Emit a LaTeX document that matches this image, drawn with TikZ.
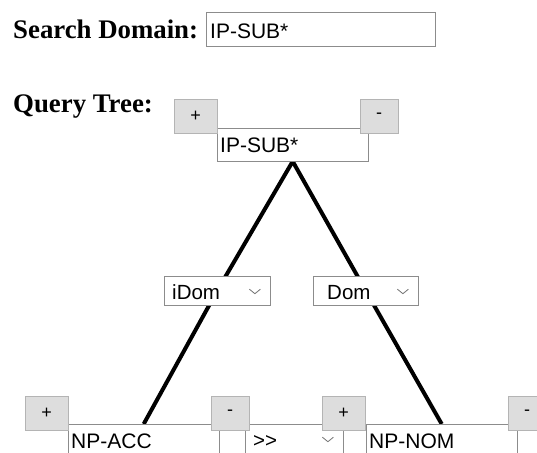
\documentclass[tikz,border=0pt]{standalone}
\usepackage{fontspec}
\setmainfont{Liberation Serif}
\newfontfamily\uifont{Liberation Sans}
\usetikzlibrary{backgrounds}
\definecolor{btnfill}{HTML}{DDDDDD}
\definecolor{btnline}{HTML}{B4B4B4}
\definecolor{boxline}{HTML}{8C8C8C}

\begin{document}
\begin{tikzpicture}[x=1pt,y=-1pt,
    title/.style={anchor=base west,inner sep=0pt,font=\fontsize{26.8}{30}\selectfont\bfseries},
    inbox/.style={draw=boxline,fill=white,anchor=north west,text width=145pt,align=left,
        inner xsep=3pt,inner ysep=0pt,text height=24pt,text depth=9pt,font=\uifont\fontsize{21}{24}\selectfont},
    selbox/.style={draw=boxline,fill=white,anchor=north west,align=left,
        inner xsep=8pt,inner ysep=0pt,text height=23pt,text depth=6pt,font=\uifont\fontsize{20.5}{24}\selectfont},
    plusbtn/.style={draw=btnline,fill=btnfill,anchor=north west,inner sep=0pt,
        minimum width=43pt,minimum height=34pt,font=\uifont\fontsize{18}{20}\selectfont},
    minusbtn/.style={plusbtn,minimum width=38pt},
    chev/.style={draw=black!55,line width=0.8pt},
    edge/.style={line width=4pt,line join=miter}]
    \clip (0,0) rectangle (537,452);

    \node (lsearch)[title] at (13,39) {Search Domain:};
    \node (domain)[inbox,text width=221pt,text height=26pt,text depth=8pt,inner xsep=4pt] at (206,12) {IP-SUB*};
    \node (lquery)[title] at (13,112) {Query Tree:};

    % top node
    \node (root)[inbox] at (217,128) {IP-SUB*};
    \node (rootplus)[plusbtn] at (174,99) {+};
    \node (rootminus)[minusbtn] at (360,99) {-};

    % relations
    \node (idom)[selbox,text width=90pt] at (164,276) {iDom};
    \node (dom)[selbox,text width=89pt] at (313,276) {\hspace*{6pt}Dom};
    \node (prec)[selbox,text width=82pt] at (245,424) {>{}>};

    % bottom nodes
    \node (npacc)[inbox] at (68,424) {NP-ACC};
    \node (npnom)[inbox] at (366,424) {NP-NOM};
    \node (accplus)[plusbtn] at (25,396) {+};
    \node (accminus)[minusbtn] at (211,396) {-};
    \node (nomplus)[plusbtn] at (322,396) {+};
    \node (nomminus)[minusbtn] at (508,396) {-};

    \draw[chev] ([xshift=-21pt,yshift=1.5pt]idom.east) -- ++(5.5,4.5) -- ++(5.5,-4.5);
    \draw[chev] ([xshift=-21pt,yshift=1.5pt]dom.east) -- ++(5.5,4.5) -- ++(5.5,-4.5);
    \draw[chev] ([xshift=-21pt,yshift=1.5pt]prec.east) -- ++(5.5,4.5) -- ++(5.5,-4.5);

    \begin{scope}[on background layer]
        \draw[edge] (npacc.north) -- (idom.center) -- (root.south)
            -- (dom.center) -- (npnom.north);
    \end{scope}
\end{tikzpicture}
\end{document}
